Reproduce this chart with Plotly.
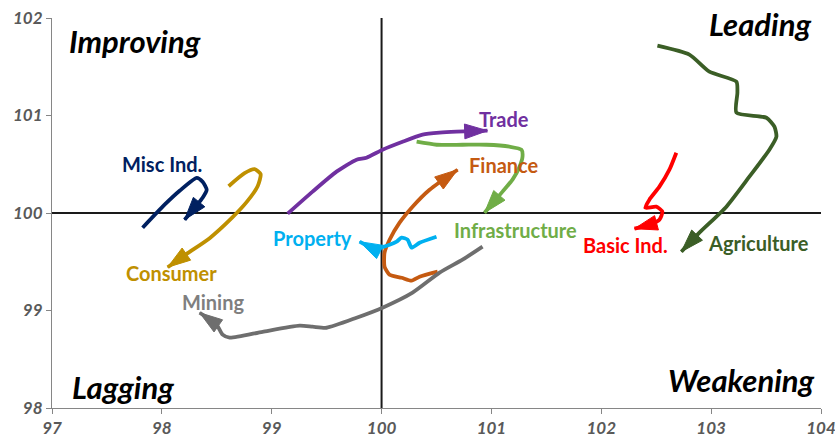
import plotly.graph_objects as go

# ---- data ----
misc_x = [97.825, 98.025, 98.162, 98.317, 98.371, 98.408, 98.371, 98.207]
misc_y = [99.849, 100.085, 100.228, 100.361, 100.320, 100.238, 100.156, 99.931]

cons_x = [98.608, 98.753, 98.844, 98.899, 98.872, 98.771, 98.635, 98.435, 98.235, 98.053]
cons_y = [100.275, 100.408, 100.449, 100.398, 100.275, 100.111, 99.947, 99.742, 99.588, 99.444]

trade_x = [99.145, 99.372, 99.590, 99.772, 99.863, 100.009, 100.191, 100.373, 100.527, 100.682, 100.964]
trade_y = [99.993, 100.219, 100.424, 100.547, 100.567, 100.649, 100.731, 100.803, 100.824, 100.834, 100.844]

infra_x = [100.319, 100.501, 100.738, 100.956, 101.165, 101.274, 101.283, 101.256, 101.192, 101.101, 100.937]
infra_y = [100.731, 100.700, 100.700, 100.700, 100.680, 100.649, 100.578, 100.475, 100.342, 100.219, 100.003]

fin_x = [100.510, 100.346, 100.273, 100.182, 100.073, 100.027, 100.027, 100.073, 100.164, 100.282, 100.437, 100.692]
fin_y = [99.399, 99.347, 99.306, 99.336, 99.367, 99.449, 99.593, 99.726, 99.901, 100.065, 100.239, 100.444]

prop_x = [100.500, 100.346, 100.273, 100.237, 100.182, 100.137, 100.073, 99.982, 99.891, 99.800]
prop_y = [99.757, 99.695, 99.644, 99.726, 99.747, 99.706, 99.675, 99.644, 99.654, 99.706]

mining_x = [100.919, 100.737, 100.528, 100.282, 100.009, 99.772, 99.499, 99.372, 99.254, 98.917, 98.617, 98.553, 98.499, 98.344]
mining_y = [99.655, 99.521, 99.388, 99.183, 99.029, 98.926, 98.823, 98.834, 98.844, 98.782, 98.721, 98.752, 98.854, 98.977]

agri_x = [102.511, 102.802, 102.984, 103.230, 103.239, 103.230, 103.503, 103.576, 103.594, 103.530, 103.348, 103.139, 102.893, 102.729]
agri_y = [101.716, 101.624, 101.449, 101.347, 101.234, 101.029, 100.977, 100.885, 100.782, 100.649, 100.372, 100.065, 99.798, 99.603]

basic_x = [102.683, 102.620, 102.529, 102.438, 102.401, 102.501, 102.556, 102.529, 102.438, 102.302]
basic_y = [100.618, 100.444, 100.270, 100.137, 100.054, 100.065, 100.013, 99.931, 99.880, 99.839]

names = ["Misc Ind.", "Consumer", "Trade", "Infrastructure", "Finance",
         "Property", "Mining", "Agriculture", "Basic Ind."]
colors = ["#002060", "#BF9000", "#7030A0", "#70AD47", "#C55A11",
          "#00B0F0", "#6E6E6E", "#3B5E26", "#FF0000"]
label_colors = ["#002060", "#BF9000", "#7030A0", "#70AD47", "#C55A11",
                "#00B0F0", "#7F7F7F", "#3B5E26", "#FF0000"]
series_x = [misc_x, cons_x, trade_x, infra_x, fin_x, prop_x, mining_x, agri_x, basic_x]
series_y = [misc_y, cons_y, trade_y, infra_y, fin_y, prop_y, mining_y, agri_y, basic_y]

label_x = [98.0, 98.09, 101.11, 101.22, 101.11, 99.37, 98.47, 103.43, 102.22]
label_y = [100.50, 99.38, 100.96, 99.83, 100.49, 99.74, 99.09, 99.69, 99.67]

quad_text = ["<i>Improving</i>", "<i>Leading</i>", "<i>Lagging</i>", "<i>Weakening</i>"]
quad_x = [97.14, 103.93, 97.16, 103.96]
quad_y = [101.76, 101.94, 98.22, 98.29]
quad_anchor = ["left", "right", "left", "right"]

xticks = [97, 98, 99, 100, 101, 102, 103, 104]
yticks = [98, 99, 100, 101, 102]

FONT = "Lato"

fig = go.Figure()

# crosshair reference lines at 100 / 100
fig.add_vline(x=100, line=dict(color="#1a1a1a", width=2), layer="below")
fig.add_hline(y=100, line=dict(color="#1a1a1a", width=2), layer="below")

for nm, c, xs, ys in zip(names, colors, series_x, series_y):
    n = len(xs)
    fig.add_trace(go.Scatter(
        x=xs, y=ys, mode="lines+markers", name=nm,
        line=dict(color=c, width=3.8, shape="spline", smoothing=0.6),
        marker=dict(symbol="arrow", angleref="previous", opacity=1,
                    size=[0] * (n - 1) + [24], color=c,
                    line=dict(width=1, color=c)),
        hoverinfo="skip", showlegend=False,
    ))

for nm, c, lx, ly in zip(names, label_colors, label_x, label_y):
    fig.add_annotation(x=lx, y=ly, text="<b>" + nm + "</b>", showarrow=False,
                       xanchor="center", yanchor="middle",
                       font=dict(family=FONT, size=20, color=c))

for t, qx, qy, a in zip(quad_text, quad_x, quad_y, quad_anchor):
    fig.add_annotation(x=qx, y=qy, text="<b>" + t + "</b>", showarrow=False,
                       xanchor=a, yanchor="middle",
                       font=dict(family=FONT, size=31, color="#000000"))

axis_common = dict(
    showgrid=False, zeroline=False, showline=True, linecolor="#868686", linewidth=1,
    ticks="outside", ticklen=5, tickcolor="#868686", automargin=False,
    ticklabeloverflow="allow",
    tickfont=dict(family=FONT, size=17, color="#595959"),
)
fig.update_xaxes(range=[97, 104], tickvals=xticks,
                 ticktext=["<b><i>%d</i></b>" % v for v in xticks], **axis_common)
fig.update_yaxes(range=[98, 102], tickvals=yticks,
                 ticktext=["<b><i>%d</i></b>" % v for v in yticks], **axis_common)

fig.update_layout(
    width=835, height=438,
    margin=dict(l=52, r=14, t=18, b=30, autoexpand=False),
    plot_bgcolor="white", paper_bgcolor="white",
    font=dict(family=FONT),
)

fig.write_html("out.html", config={"displayModeBar": False},
               post_script="document.body.style.margin='0px';")
